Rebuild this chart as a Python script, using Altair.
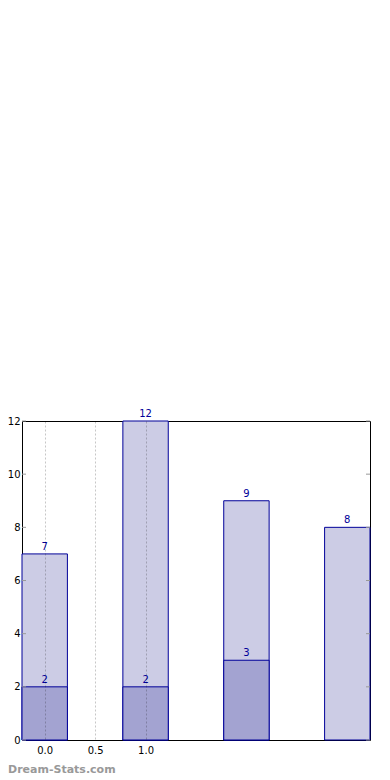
import altair as alt
import pandas as pd

positions = [0, 1, 2, 3]
totals = [7, 12, 9, 8]
parts = [2, 2, 3, None]
x_tick_values = [0.0, 0.5, 1.0]
y_tick_values = [0, 2, 4, 6, 8, 10, 12]
half_width = 0.225
watermark = "Dream-Stats.com"

FONT = "DejaVu Sans"
EDGE = "#000099"
BG_FILL = "#ccccE5"
FG_FILL = "#a3a3d1"
TXT = "#000099"

W, H = 348, 319

df = pd.DataFrame({"pos": positions, "total": totals, "part": parts})
tick_df = pd.DataFrame({"v": y_tick_values})
wm_df = pd.DataFrame({"t": [watermark]})

xscale = alt.Scale(domain=[-half_width, positions[-1] + half_width], nice=False, zero=False)
yscale = alt.Scale(domain=[0, 12], nice=False, zero=True)

base = alt.Chart(df).transform_calculate(
    x0=f"datum.pos - {half_width}", x1=f"datum.pos + {half_width}"
)

x_axis = alt.Axis(
    values=x_tick_values, format=".1f", grid=True, gridColor="#000000",
    gridOpacity=0.22, gridDash=[2, 2], ticks=False, domain=False,
    labelFont=FONT, labelFontSize=10, labelColor="#000000", labelPadding=5,
    title=None, zindex=1,
)
y_axis = alt.Axis(
    values=y_tick_values, grid=False, ticks=False, domain=False,
    labelFont=FONT, labelFontSize=10, labelColor="#000000", labelPadding=2,
    title=None,
)

bg = base.mark_bar(fill=BG_FILL, stroke=EDGE, strokeWidth=1).encode(
    x=alt.X("x0:Q", scale=xscale, axis=x_axis),
    x2="x1:Q",
    y=alt.Y("total:Q", scale=yscale, axis=y_axis),
    y2=alt.datum(0),
)
fg = base.transform_filter("datum.part != null").mark_bar(
    fill=FG_FILL, stroke=EDGE, strokeWidth=1
).encode(
    x=alt.X("x0:Q", scale=xscale),
    x2="x1:Q",
    y=alt.Y("part:Q", scale=yscale),
    y2=alt.datum(0),
)
bg_lab = base.mark_text(
    font=FONT, fontSize=10, color=TXT, baseline="bottom", dy=-2
).encode(
    x=alt.X("pos:Q", scale=xscale),
    y=alt.Y("total:Q", scale=yscale),
    text="total:Q",
)
fg_lab = base.transform_filter("datum.part != null").mark_text(
    font=FONT, fontSize=10, color=TXT, baseline="bottom", dy=-2
).encode(
    x=alt.X("pos:Q", scale=xscale),
    y=alt.Y("part:Q", scale=yscale),
    text="part:Q",
)
left_ticks = alt.Chart(tick_df).mark_rule(color="#999999", strokeWidth=1).encode(
    y=alt.Y("v:Q", scale=yscale),
    x=alt.value(0), x2=alt.value(4),
)
right_ticks = alt.Chart(tick_df).mark_rule(color="#999999", strokeWidth=1).encode(
    y=alt.Y("v:Q", scale=yscale),
    x=alt.value(W - 4), x2=alt.value(W),
)
wm = alt.Chart(wm_df).mark_text(
    font=FONT, fontSize=11, fontWeight="bold", color="#999999",
    align="left", baseline="middle"
).encode(
    x=alt.value(-14), y=alt.value(349), text="t:N"
)

chart = alt.layer(bg, fg, bg_lab, fg_lab, left_ticks, right_ticks, wm).properties(
    width=W, height=H,
    autosize=alt.AutoSizeParams(type="none"),
    padding={"left": 14, "top": 413, "right": 12, "bottom": 40},
).configure(background="#ffffff").configure_view(stroke="#000000", strokeWidth=1)

chart.save("out.html", embed_options={"renderer": "svg", "actions": False})
